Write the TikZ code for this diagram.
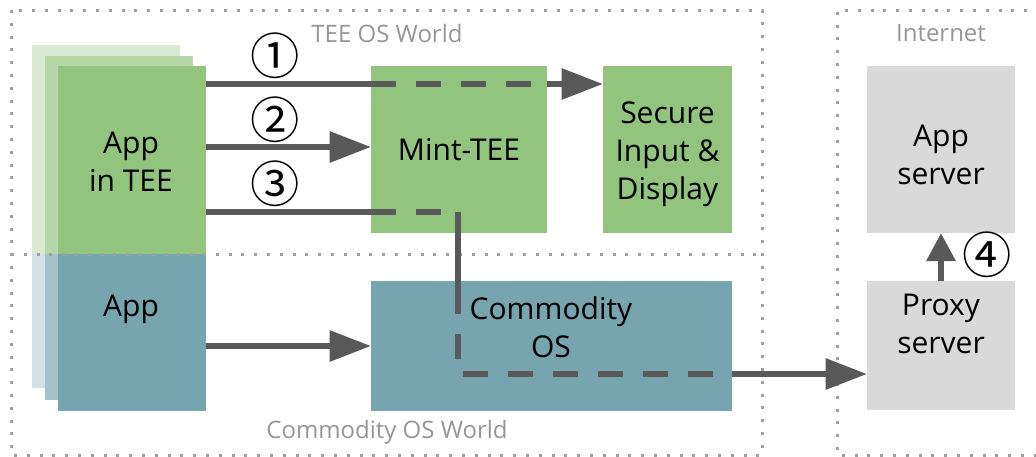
\documentclass[tikz,border=0pt]{standalone}
\usepackage{fontspec}
\setmainfont{Open Sans}
\newfontfamily\cjk{Noto Sans CJK JP}
\usetikzlibrary{arrows.meta,calc}
\definecolor{gA}{HTML}{93C47D}
\definecolor{gB}{HTML}{B6D7A8}
\definecolor{gC}{HTML}{D9EAD3}
\definecolor{bA}{HTML}{76A5AF}
\definecolor{bB}{HTML}{A2C4C9}
\definecolor{bC}{HTML}{D0E0E3}
\definecolor{srv}{HTML}{D9D9D9}
\definecolor{ln}{HTML}{595959}
\definecolor{dotc}{RGB}{160,160,160}
\definecolor{lbl}{RGB}{150,150,150}
\tikzset{
  box/.style={fill=#1, draw=none, inner sep=0pt, outer sep=0pt},
  txt/.style={inner sep=0pt, align=center, font=\fontsize{22.5pt}{28.5pt}\selectfont},
  world/.style={draw=dotc, line width=2.25pt, dash pattern=on 2.25pt off 7.35pt},
  wlabel/.style={text=lbl, inner sep=0pt, font=\fontsize{18pt}{22pt}\selectfont},
  conn/.style={draw=ln, line width=4.5pt},
  dconn/.style={draw=ln, line width=4.5pt, dash pattern=on 18.75pt off 15pt},
  arr/.style={conn, -{Triangle[length=31pt,width=22.5pt]}},
  arrs/.style={conn, -{Triangle[length=21pt,width=21pt]}},
  num/.style={inner sep=0pt, font=\cjk\fontsize{37pt}{37pt}\selectfont}
}
\begin{document}
\begin{tikzpicture}[x=0.75pt,y=-0.75pt]
\useasboundingbox (0,0) rectangle (1036,457);
% world frames
\draw[world] (11,10) rectangle (762,455);
\draw[world] (1040,10) -- (837,10) -- (837,455) -- (1040,455);
\node[wlabel] (teew) at (387,33) {TEE OS World};
\node[wlabel] (comw) at (387,432) {Commodity OS World};
\node[wlabel] (inet) at (941,33) {Internet};
% app stack
\fill[gC] (32,45) rectangle (180,254);
\fill[bC] (32,254) rectangle (180,388);
\fill[gB] (45,56) rectangle (193,254);
\fill[bB] (45,254) rectangle (193,400);
\node[box=gA, minimum width=111pt, minimum height=141pt] (appTEE) at (132,160) {};
\node[box=bA, minimum width=111pt, minimum height=117.75pt] (app) at (132,332.5) {};
\node[txt] (appTEEtxt) at (131,162) {App\\in TEE};
\node[txt] (apptxt) at (131,309) {App};
\draw[world] (11,254) -- (762,254);
% boxes
\node[box=gA, minimum width=132pt, minimum height=125.25pt] (mint) at (459,149.5) {};
\node[txt] (minttxt) at (459,150) {Mint-TEE};
\node[box=gA, minimum width=96.75pt, minimum height=125.25pt] (sec) at (667.5,149.5) {};
\node[txt] (sectxt) at (667.5,154.5) {Secure\\Input \&\\Display};
\node[box=bA, minimum width=270.75pt, minimum height=97.5pt] (cos) at (551.5,346) {};
\node[txt] (costxt) at (551,327) {Commodity\\OS};
\node[box=srv, minimum width=111pt, minimum height=125.25pt] (appsrv) at (941,149.5) {};
\node[txt] (appsrvtxt) at (941,155) {App\\server};
\node[box=srv, minimum width=111pt, minimum height=96.75pt] (proxy) at (941,345.5) {};
\node[txt] (proxytxt) at (941,324) {Proxy\\server};
% connectors
\coordinate (s1) at ($(appTEE.north east)+(0,18)$);
\coordinate (s2) at ($(appTEE.north east)+(0,81)$);
\coordinate (s3) at ($(appTEE.north east)+(0,146)$);
\coordinate (s4) at ($(app.north east)+(0,92)$);
\coordinate (c3) at (458,212);
\coordinate (c4) at (458,289);
\coordinate (c5) at (458,374);
% (1)
\draw[conn] (s1) -- (mint.west |- s1);
\draw[dconn] (mint.west |- s1) -- (mint.east |- s1);
\draw[arr] (mint.east |- s1) -- (sec.west |- s1);
% (2)
\draw[arr] (s2) -- (mint.west |- s2);
% (3)
\draw[conn] (s3) -- (mint.west |- s3);
\draw[dconn] (mint.west |- s3) -- (c3);
\draw[conn] (c3) -- (c4);
\draw[dconn] (c4) -- (c5) -- (cos.east |- c5);
\draw[arr] (cos.east |- c5) -- (proxy.west |- c5);
% app -> commodity
\draw[arr] (s4) -- (cos.west |- s4);
% (4)
\draw[arrs] (proxy.north) -- (appsrv.south);
% numbers
\node[num] (n1) at (275,56) {①};
\node[num] (n2) at (275,120) {②};
\node[num] (n3) at (275,184) {③};
\node[num] (n4) at (987,255) {④};
\end{tikzpicture}
\end{document}
